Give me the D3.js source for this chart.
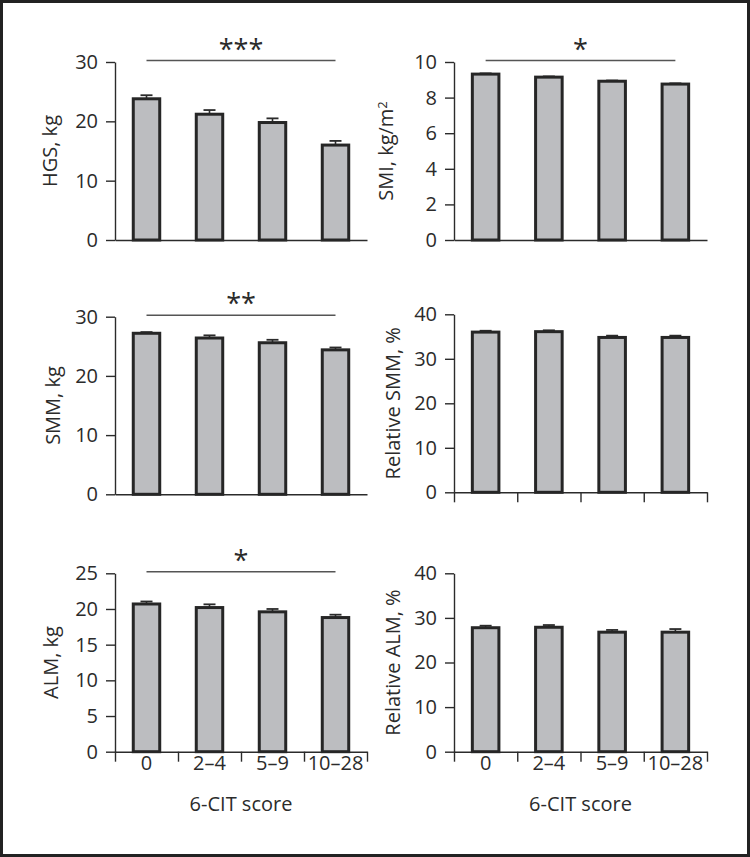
<!DOCTYPE html>
<html>
<head>
<meta charset="utf-8">
<script src="https://cdn.jsdelivr.net/npm/d3@7"></script>
<style>
  html, body { margin: 0; padding: 0; background: #fff; }
  svg { display: block; font-family: "Open Sans", sans-serif; }
</style>
</head>
<body>
<div id="chart"></div>
<script>
// 6-CIT score groups
const categories = ["0", "2–4", "5–9", "10–28"];

const hgsMean = [23.8, 21.2, 19.8, 16.0];
const hgsSE   = [0.6, 0.7, 0.7, 0.7];
const smiMean = [9.32, 9.15, 8.92, 8.76];
const smiSE   = [0.04, 0.04, 0.04, 0.04];
const smmMean = [27.2, 26.4, 25.6, 24.4];
const smmSE   = [0.2, 0.45, 0.5, 0.4];
const relSmmMean = [36.0, 36.1, 34.8, 34.8];
const relSmmSE   = [0.3, 0.3, 0.4, 0.4];
const almMean = [20.7, 20.2, 19.6, 18.8];
const almSE   = [0.35, 0.45, 0.4, 0.4];
const relAlmMean = [27.8, 27.9, 26.8, 26.8];
const relAlmSE   = [0.45, 0.5, 0.5, 0.7];

const panels = [
  { label: "HGS, kg", mean: hgsMean, se: hgsSE, max: 30, step: 10, sig: "***" },
  { label: "SMI, kg/m", sup: "2", mean: smiMean, se: smiSE, max: 10, step: 2, sig: "*" },
  { label: "SMM, kg", mean: smmMean, se: smmSE, max: 30, step: 10, sig: "**" },
  { label: "Relative SMM, %", mean: relSmmMean, se: relSmmSE, max: 40, step: 10, sig: null },
  { label: "ALM, kg", mean: almMean, se: almSE, max: 25, step: 5, sig: "*" },
  { label: "Relative ALM, %", mean: relAlmMean, se: relAlmSE, max: 40, step: 10, sig: null }
];

// where each panel sits on the page
const layout = [
  { x0: 115, x1: 367, yTop: 62,    yBot: 240,   labelX: 57,  xTicks: false, xLabels: false },
  { x0: 454, x1: 707, yTop: 62,    yBot: 240,   labelX: 393, xTicks: false, xLabels: false },
  { x0: 115, x1: 367, yTop: 316.7, yBot: 494.3, labelX: 60,  xTicks: false, xLabels: false },
  { x0: 454, x1: 707, yTop: 314.3, yBot: 492.3, labelX: 400, xTicks: true,  xLabels: false },
  { x0: 115, x1: 367, yTop: 573.3, yBot: 751.7, labelX: 58,  xTicks: true,  xLabels: true },
  { x0: 454, x1: 707, yTop: 573.3, yBot: 751.7, labelX: 400, xTicks: true,  xLabels: true }
];

const W = 750, H = 857;
const ink = "#2b2b2b";
const fs = "20px";

const svg = d3.select("#chart").append("svg")
  .attr("width", W)
  .attr("height", H);

svg.append("rect")
  .attr("x", 1.5).attr("y", 1.5)
  .attr("width", W - 3).attr("height", H - 3)
  .attr("fill", "#fff")
  .attr("stroke", "#222")
  .attr("stroke-width", 3);

panels.forEach((p, i) => {
  const L = layout[i];
  const g = svg.append("g");

  const x = d3.scaleBand()
    .domain(categories)
    .range([L.x0, L.x1])
    .paddingInner(0.58)
    .paddingOuter(0.29);

  const y = d3.scaleLinear()
    .domain([0, p.max])
    .range([L.yBot, L.yTop]);

  // y axis
  const yAxis = g.append("g")
    .attr("transform", `translate(${L.x0},0)`)
    .call(d3.axisLeft(y)
      .tickValues(d3.range(0, p.max + 0.001, p.step))
      .tickSize(9)
      .tickSizeOuter(0)
      .tickPadding(8));
  yAxis.selectAll("path, line").attr("stroke", ink).attr("stroke-width", 1.4);
  yAxis.selectAll("text")
    .attr("fill", ink)
    .style("font-size", fs)
    .style("font-family", "'Open Sans', sans-serif");

  // x axis line (ticks at band boundaries)
  const xb = d3.scaleLinear().domain([0, categories.length]).range([L.x0, L.x1]);
  const xAxis = g.append("g")
    .attr("transform", `translate(0,${L.yBot})`)
    .call(d3.axisBottom(xb)
      .ticks(categories.length)
      .tickFormat("")
      .tickSize(L.xTicks ? 10 : 0)
      .tickSizeOuter(0));
  xAxis.selectAll("path, line").attr("stroke", ink).attr("stroke-width", 1.4);

  if (L.xLabels) {
    g.selectAll(".xl")
      .data(categories)
      .join("text")
        .attr("x", d => x(d) + x.bandwidth() / 2)
        .attr("y", L.yBot + 18.5)
        .attr("text-anchor", "middle")
        .attr("fill", ink)
        .style("font-size", fs)
        .text(d => d);

    g.append("text")
      .attr("x", (L.x0 + L.x1) / 2)
      .attr("y", L.yBot + 59)
      .attr("text-anchor", "middle")
      .attr("fill", ink)
      .style("font-size", fs)
      .text("6-CIT score");
  }

  // y title
  const yt = g.append("text")
    .attr("transform", `translate(${L.labelX},${(L.yTop + L.yBot) / 2}) rotate(-90)`)
    .attr("text-anchor", "middle")
    .attr("fill", ink)
    .style("font-size", fs)
    .text(p.label);
  if (p.sup) {
    yt.append("tspan")
      .attr("dy", "-0.5em")
      .style("font-size", "13px")
      .text(p.sup);
  }

  const rows = categories.map((c, k) => ({ c, m: p.mean[k], s: p.se[k] }));

  // error bars
  const eb = g.selectAll(".eb")
    .data(rows)
    .join("g")
      .attr("transform", d => `translate(${x(d.c) + x.bandwidth() / 2},0)`);
  eb.append("line")
    .attr("y1", d => y(d.m))
    .attr("y2", d => y(d.m + d.s))
    .attr("stroke", ink)
    .attr("stroke-width", 1.6);
  eb.append("line")
    .attr("x1", -6).attr("x2", 6)
    .attr("y1", d => y(d.m + d.s))
    .attr("y2", d => y(d.m + d.s))
    .attr("stroke", ink)
    .attr("stroke-width", 1.8);

  // bars
  g.selectAll(".bar")
    .data(rows)
    .join("rect")
      .attr("x", d => x(d.c))
      .attr("y", d => y(d.m))
      .attr("width", x.bandwidth())
      .attr("height", d => y(0) - y(d.m))
      .attr("fill", "#bcbdc0")
      .attr("stroke", "#262626")
      .attr("stroke-width", 3);

  // significance
  if (p.sig) {
    const c0 = x(categories[0]) + x.bandwidth() / 2;
    const c1 = x(categories[categories.length - 1]) + x.bandwidth() / 2;
    const ly = y(p.max) - 1.5;
    g.append("line")
      .attr("x1", c0).attr("x2", c1)
      .attr("y1", ly).attr("y2", ly)
      .attr("stroke", "#555")
      .attr("stroke-width", 1.5);
    g.append("text")
      .attr("x", (c0 + c1) / 2)
      .attr("y", ly - 2)
      .attr("text-anchor", "middle")
      .attr("fill", ink)
      .style("font-size", "27px")
      .text(p.sig);
  }
});
</script>
</body>
</html>
